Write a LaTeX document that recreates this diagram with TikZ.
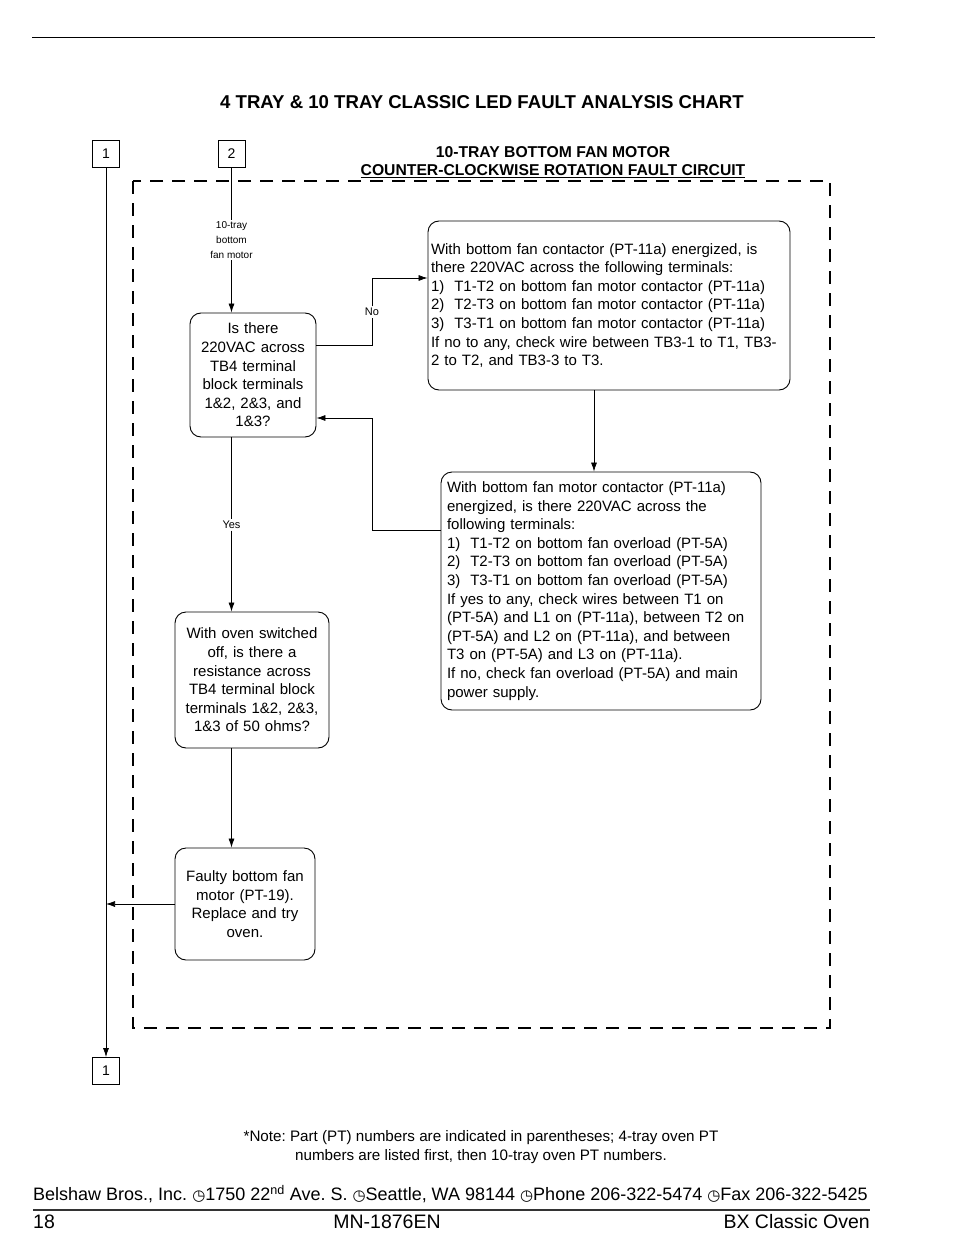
\documentclass[tikz,border=0pt]{standalone}
\usepackage{fontspec}
\setmainfont{Liberation Sans}
\newfontfamily\dejavu{DejaVu Sans}
\usetikzlibrary{arrows.meta}
\frenchspacing
\begin{document}
\begin{tikzpicture}[x=1pt,y=-1pt,
  box/.style={draw, rounded corners=11pt, line width=0.9pt, inner sep=0pt,
    font=\fontsize{15}{18.6}\selectfont},
  numbox/.style={draw, line width=0.9pt, minimum width=27pt, minimum height=27pt, inner sep=0pt,
    font=\fontsize{14}{16}\selectfont},
  conn/.style={line width=0.7pt},
  arr/.style={conn, -{Latex[length=9pt,width=6pt]}},
  lbl/.style={fill=white, inner sep=1.5pt, font=\fontsize{11}{15}\selectfont, align=center},
  dashbox/.style={line width=2.8pt, dash pattern=on 13pt off 9pt}]
\useasboundingbox (0,0) rectangle (954,1260);

% top rule
\draw[line width=0.8pt] (32,37) -- (875,37);

% titles
\node[font=\fontsize{18.6}{20}\selectfont\bfseries] (title) at (482,102) {4 TRAY \& 10 TRAY CLASSIC LED FAULT ANALYSIS CHART};
\node[font=\fontsize{15.7}{17}\selectfont\bfseries] (head1) at (553,152) {10-TRAY BOTTOM FAN MOTOR};
\node[font=\fontsize{15.7}{17}\selectfont\bfseries] (head2) at (553,171) {\underline{COUNTER-CLOCKWISE ROTATION FAULT CIRCUIT}};

% dashed frame
\draw[dashbox] (133,181) rectangle (830,1028);

% connector boxes
\node[numbox] (b1t) at (106,154) {1};
\node[numbox] (b2) at (231.5,154) {2};
\node[numbox] (b1b) at (106,1071) {1};

% decision boxes
\node[box, minimum width=126pt, minimum height=124pt, text width=122pt, align=center] (A) at (253,375)
  {Is there\\220VAC across\\TB4 terminal\\block terminals\\1\&2, 2\&3, and\\1\&3?};
\node[box, minimum width=362pt, minimum height=169pt, text width=356pt, align=left] (B) at (609,305.5)
  {With bottom fan contactor (PT-11a) energized, is\\
   there 220VAC across the following terminals:\\
   1)\ \ T1-T2 on bottom fan motor contactor (PT-11a)\\
   2)\ \ T2-T3 on bottom fan motor contactor (PT-11a)\\
   3)\ \ T3-T1 on bottom fan motor contactor (PT-11a)\\
   If no to any, check wire between TB3-1 to T1, TB3-\\
   2 to T2, and TB3-3 to T3.};
\node[box, minimum width=320pt, minimum height=238pt, text width=308pt, align=left] (C) at (601,591)
  {With bottom fan motor contactor (PT-11a)\\
   energized, is there 220VAC across the\\
   following terminals:\\
   1)\ \ T1-T2 on bottom fan overload (PT-5A)\\
   2)\ \ T2-T3 on bottom fan overload (PT-5A)\\
   3)\ \ T3-T1 on bottom fan overload (PT-5A)\\
   If yes to any, check wires between T1 on\\
   (PT-5A) and L1 on (PT-11a), between T2 on\\
   (PT-5A) and L2 on (PT-11a), and between\\
   T3 on (PT-5A) and L3 on (PT-11a).\\
   If no, check fan overload (PT-5A) and main\\
   power supply.};
\node[box, minimum width=154pt, minimum height=136pt, text width=152pt, align=center] (D) at (252,680)
  {With oven switched\\off, is there a\\resistance across\\TB4 terminal block\\terminals 1\&2, 2\&3,\\1\&3 of 50 ohms?};
\node[box, minimum width=140pt, minimum height=112pt, text width=136pt, align=center] (E) at (245,904)
  {Faulty bottom fan\\motor (PT-19).\\Replace and try\\oven.};

% labels
\node[lbl, font=\fontsize{10}{15}\selectfont] (lab2) at (231.5,240) {10-tray\\bottom\\fan motor};
\node[lbl] (no) at (372,312) {No};
\node[lbl] (yes) at (231.5,525) {Yes};

% connectors
\draw[arr] (b1t) -- (b1b);
\draw[conn] (b2) -- (lab2);
\draw[arr] (lab2) -- (A.north -| b2);
\draw[conn] ([yshift=30pt]A.east) -| (no);
\draw[arr] (no) |- ([yshift=27.5pt]B.west);
\draw[arr] ([xshift=-15pt]B.south) -- ([xshift=-7pt]C.north);
\draw[arr] ([yshift=61pt]C.west) -- ++(-68,0) |- ([yshift=-43pt]A.east);
\draw[conn] (A.south -| b2) -- (yes);
\draw[arr] (yes) -- (D.north -| b2);
\draw[arr] (D.south -| b2) -- (E.north -| b2);
\draw[arr] (E.west) -- (E.west -| b1t);

% footnote
\node[font=\fontsize{15.2}{19}\selectfont, align=center] (note) at (481,1147)
  {*Note: Part (PT) numbers are indicated in parentheses; 4-tray oven PT\\numbers are listed first, then 10-tray oven PT numbers.};

% footer
\node[anchor=west, inner sep=0pt, font=\fontsize{18}{20}\selectfont] (addr) at (33,1194)
  {Belshaw Bros., Inc. {\dejavu\fontsize{15}{16}\selectfont ◷}1750 22\textsuperscript{nd} Ave. S. {\dejavu\fontsize{15}{16}\selectfont ◷}Seattle, WA 98144 {\dejavu\fontsize{15}{16}\selectfont ◷}Phone 206-322-5474 {\dejavu\fontsize{15}{16}\selectfont ◷}Fax 206-322-5425};
\draw[line width=1.4pt, black!80] (33,1210) -- (870,1210);
\node[anchor=west, inner sep=0pt, font=\fontsize{19.5}{20}\selectfont] (pg) at (33,1222) {18};
\node[inner sep=0pt, font=\fontsize{19.5}{20}\selectfont] (mn) at (387,1222) {MN-1876EN};
\node[anchor=east, inner sep=0pt, font=\fontsize{19.5}{20}\selectfont] (bx) at (870,1222) {BX Classic Oven};
\end{tikzpicture}
\end{document}
